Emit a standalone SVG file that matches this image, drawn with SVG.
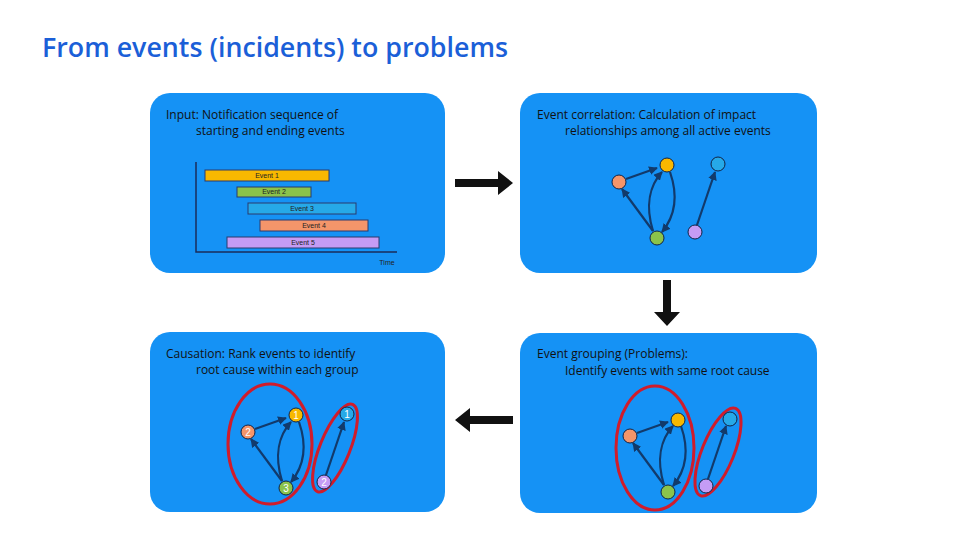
<svg xmlns="http://www.w3.org/2000/svg" width="960" height="540" viewBox="0 0 960 540">
<style>
.p{fill:#1592F5}
.t{font-family:"Open Sans","Liberation Sans",sans-serif;font-size:12px;fill:#111}
.e{stroke:#123a6b;stroke-width:2.2;fill:none;marker-end:url(#a)}
.n{stroke:#124;stroke-width:1}
.g{fill:none;stroke:#d01c2b;stroke-width:3}
.b{stroke:#2a3b6e;stroke-width:1}
.bt{font-family:"Liberation Sans",sans-serif;font-size:7px;fill:#222;text-anchor:middle}
.nl{font-family:"Liberation Sans",sans-serif;font-size:10px;fill:#fff;text-anchor:middle}
</style>
<defs>
<marker id="a" viewBox="0 0 10 10" refX="9" refY="5" markerWidth="4" markerHeight="4" orient="auto"><path d="M0,0L10,5L0,10z" fill="#123a6b"/></marker>
<g id="graph">
<path class="e" d="M626,179L657,168"/>
<path class="e" d="M653,231L622,189"/>
<path class="e" d="M653,231C645,205 650,185 662,172"/>
<path class="e" d="M670,172C678,195 676,215 662,232"/>
<path class="e" d="M697,225L715,172"/>
</g>
</defs>
<text x="42" y="57" font-family="Open Sans,Liberation Sans,sans-serif" font-size="27" font-weight="600" fill="#1b5fd8" textLength="466" lengthAdjust="spacingAndGlyphs">From events (incidents) to problems</text>
<g id="p1">
<rect class="p" x="150" y="93" width="295" height="180" rx="20"/>
<text class="t" x="166" y="119">Input: Notification sequence of</text>
<text class="t" x="196" y="135">starting and ending events</text>
<rect class="b" x="205" y="170" width="124" height="11" fill="#f8b800"/><text class="bt" x="267" y="178">Event 1</text>
<rect class="b" x="237" y="187" width="74" height="10" fill="#8bc34a"/><text class="bt" x="274" y="194">Event 2</text>
<rect class="b" x="248" y="203" width="108" height="11" fill="#26a9e8"/><text class="bt" x="302" y="211">Event 3</text>
<rect class="b" x="260" y="220" width="108" height="11" fill="#f4956a"/><text class="bt" x="314" y="228">Event 4</text>
<rect class="b" x="227" y="237" width="152" height="11" fill="#c59cf5"/><text class="bt" x="303" y="245">Event 5</text>
<path d="M196,162V252H397" stroke="#1a2d5a" stroke-width="1.5" fill="none"/>
<text class="bt" x="387" y="265">Time</text>
</g>
<g id="p2">
<rect class="p" x="520" y="93" width="297" height="180" rx="20"/>
<text class="t" x="537" y="119">Event correlation:  Calculation  of impact</text>
<text class="t" x="565" y="135">relationships among all active events</text>
<use href="#graph"/>
<circle class="n" cx="619" cy="182" r="7" fill="#f4956a"/>
<circle class="n" cx="667" cy="165" r="7" fill="#f8b800"/>
<circle class="n" cx="718" cy="164" r="7" fill="#26a9e8"/>
<circle class="n" cx="657" cy="238" r="7" fill="#8bc34a"/>
<circle class="n" cx="695" cy="232" r="7" fill="#c59cf5"/>
</g>
<g id="p3">
<rect class="p" x="150" y="332" width="295" height="180" rx="20"/>
<text class="t" x="166" y="358">Causation: Rank events to identify</text>
<text class="t" x="196" y="374">root cause within each group</text>
<use href="#graph" transform="translate(-371,250)"/>
<ellipse class="g" cx="270" cy="444" rx="42" ry="60"/>
<ellipse class="g" cx="335" cy="448" rx="15" ry="47" transform="rotate(22 335 448)"/>
<circle class="n" cx="248" cy="432" r="7" fill="#f4956a"/><text class="nl" x="248" y="436">2</text>
<circle class="n" cx="296" cy="415" r="7" fill="#f8b800"/><text class="nl" x="296" y="419">1</text>
<circle class="n" cx="347" cy="414" r="7" fill="#26a9e8"/><text class="nl" x="347" y="418">1</text>
<circle class="n" cx="286" cy="488" r="7" fill="#8bc34a"/><text class="nl" x="286" y="492">3</text>
<circle class="n" cx="324" cy="482" r="7" fill="#c59cf5"/><text class="nl" x="324" y="486">2</text>
</g>
<g id="p4">
<rect class="p" x="520" y="333" width="297" height="180" rx="20"/>
<text class="t" x="537" y="358">Event grouping (Problems):</text>
<text class="t" x="565" y="375">Identify events with same root cause</text>
<use href="#graph" transform="translate(11,254)"/>
<ellipse class="g" cx="655" cy="448" rx="39" ry="62"/>
<ellipse class="g" cx="718" cy="452" rx="16" ry="47" transform="rotate(22 718 452)"/>
<circle class="n" cx="630" cy="436" r="7" fill="#f4956a"/>
<circle class="n" cx="678" cy="420" r="7" fill="#f8b800"/>
<circle class="n" cx="730" cy="419" r="7" fill="#26a9e8"/>
<circle class="n" cx="668" cy="492" r="7" fill="#8bc34a"/>
<circle class="n" cx="706" cy="486" r="7" fill="#c59cf5"/>
</g>
<g id="connectors" fill="#111">
<path d="M455,179H498V171L513,183L498,195V187H455z"/>
<path d="M663,280H671V312H680L667,326L654,312H663z"/>
<path d="M513,416H470V408L455,420L470,432V424H513z"/>
</g>
</svg>
